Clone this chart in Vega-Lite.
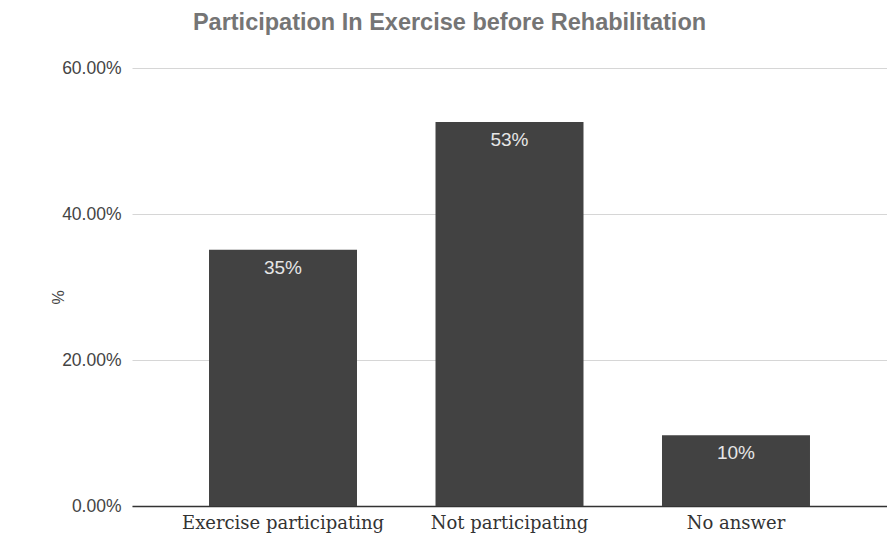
{
  "$schema": "https://vega.github.io/schema/vega-lite/v6.json",
  "autosize": "none",
  "width": 755,
  "height": 438,
  "padding": {"left": 132, "top": 68, "right": 0, "bottom": 32},
  "background": "white",
  "title": {
    "text": "Participation In Exercise before Rehabilitation",
    "font": "Liberation Sans",
    "fontSize": 23.5,
    "fontWeight": "bold",
    "color": "#757575",
    "anchor": "middle",
    "dx": -60,
    "offset": 25,
    "limit": 0
  },
  "data": {
    "values": [
      {"group": "Exercise participating", "share": 0.351},
      {"group": "Not participating", "share": 0.526},
      {"group": "No answer", "share": 0.097}
    ]
  },
  "encoding": {
    "x": {
      "field": "group",
      "type": "nominal",
      "sort": null,
      "scale": {"paddingInner": 0.3466, "paddingOuter": 0.34},
      "axis": {
        "title": null,
        "labelAngle": 0,
        "labelFont": "DejaVu Serif",
        "labelFontSize": 18,
        "labelColor": "#333333",
        "labelPadding": 8,
        "labelLimit": 0,
        "ticks": false,
        "domainColor": "#333333",
        "domainWidth": 1.5
      }
    },
    "y": {
      "field": "share",
      "type": "quantitative",
      "scale": {"domain": [0, 0.6]},
      "axis": {
        "title": "%",
        "titleFont": "Liberation Sans",
        "titleFontSize": 16,
        "titleFontWeight": "normal",
        "titleColor": "#444444",
        "titleX": -66,
        "titleY": 229,
        "values": [0, 0.2, 0.4, 0.6],
        "format": ".2%",
        "labelFont": "Liberation Sans",
        "labelFontSize": 17.5,
        "labelColor": "#444444",
        "labelPadding": 11,
        "ticks": false,
        "domain": false,
        "gridColor": "#d6d6d6",
        "gridWidth": 1
      }
    }
  },
  "layer": [
    {"mark": {"type": "bar", "color": "#424242"}},
    {
      "mark": {
        "type": "text",
        "baseline": "middle",
        "dy": 18,
        "font": "Liberation Sans",
        "fontSize": 19,
        "color": "#e6e6e6"
      },
      "encoding": {"text": {"field": "share", "type": "quantitative", "format": ".0%"}}
    }
  ],
  "config": {"view": {"stroke": null}}
}
